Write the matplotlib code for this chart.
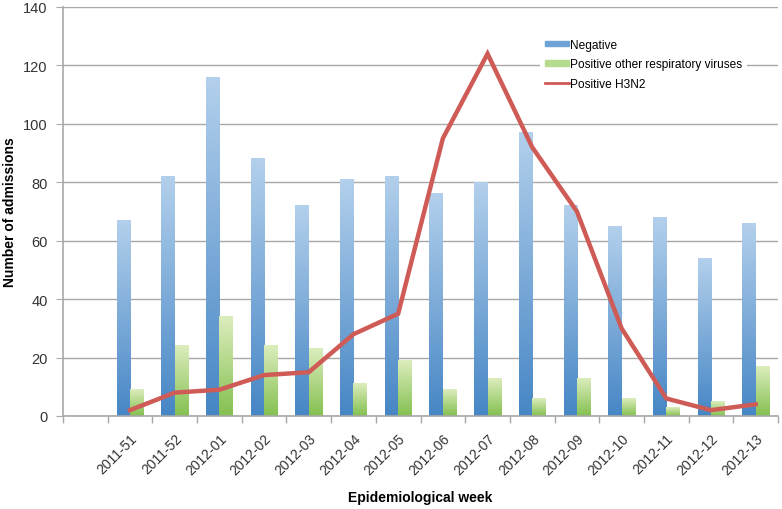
import numpy as np
import matplotlib.pyplot as plt
from matplotlib.colors import LinearSegmentedColormap
from matplotlib.patches import Patch
from matplotlib.lines import Line2D

plt.rcParams['font.family'] = ['Liberation Sans', 'DejaVu Sans']

# data (first category slot is empty)
weeks = ['', '2011-51', '2011-52', '2012-01', '2012-02', '2012-03', '2012-04', '2012-05',
         '2012-06', '2012-07', '2012-08', '2012-09', '2012-10', '2012-11', '2012-12', '2012-13']
negative = [67, 82, 116, 88, 72, 81, 82, 76, 80, 97, 72, 65, 68, 54, 66]
other_viruses = [9, 24, 34, 24, 23, 11, 19, 9, 13, 6, 13, 6, 3, 5, 17]
h3n2 = [2, 8, 9, 14, 15, 28, 35, 95, 124, 92, 70, 30, 6, 2, 4]

blue_cmap = LinearSegmentedColormap.from_list('b', ['#4686c5', '#b3d0ec'])
green_cmap = LinearSegmentedColormap.from_list('g', ['#84c050', '#dcedbd'])
grad = np.linspace(0, 1, 256).reshape(-1, 1)

fig = plt.figure(figsize=(7.82, 5.10), dpi=100)
ax = fig.add_axes([63/782, 1 - 417/510, 715/782, 409/510])

x = np.arange(1, len(weeks))
w = 0.3

def gradient_bars(xpos, vals, cmap):
    bars = ax.bar(xpos, vals, width=w, align='edge', color='none', zorder=2)
    for b in bars:
        x0, h = b.get_x(), b.get_height()
        ax.imshow(grad, cmap=cmap, origin='lower', aspect='auto',
                  extent=(x0, x0 + w, 0, h), zorder=2, interpolation='bicubic')

gradient_bars(x - w, negative, blue_cmap)
gradient_bars(x, other_viruses, green_cmap)
ax.plot(x, h3n2, color='#cf5b57', lw=3.2, zorder=3, solid_joinstyle='miter')

ax.set_xlim(-0.5, len(weeks) - 0.5)
ax.set_ylim(0, 140)
ax.set_yticks(np.arange(0, 141, 20))
ax.yaxis.grid(True, color='#a8a8a8', lw=1)
ax.set_axisbelow(True)

# tick marks between categories, labels at category centres
ax.set_xticks(np.arange(-0.5, len(weeks), 1))
ax.set_xticklabels([])
ax.set_xticks(np.arange(len(weeks)), minor=True)
ax.set_xticklabels(weeks, minor=True, rotation=45, ha='right', va='top',
                   rotation_mode='anchor', fontsize=10, color='#333333')
ax.tick_params(axis='x', which='minor', length=0, pad=11)
ax.tick_params(axis='x', which='major', length=5, color='#a8a8a8', width=1)
ax.tick_params(axis='y', length=5, color='#a8a8a8', labelsize=10.5, labelcolor='#333333', pad=6)

for s in ['top', 'right']:
    ax.spines[s].set_visible(False)
for s in ['left', 'bottom']:
    ax.spines[s].set_color('#a8a8a8')
    ax.spines[s].set_linewidth(1.2)

ax.set_ylabel('Number of admissions', fontsize=10, fontweight='bold')
ax.yaxis.set_label_coords(-46/715, 0.5)
ax.set_xlabel('Epidemiological week', fontsize=10, fontweight='bold')
ax.xaxis.set_label_coords(0.5, -74/409)

handles = [Patch(color='#6fa3d8'), Patch(color='#b5dc8e'),
           Line2D([], [], color='#cf5b57', lw=2)]
labels = ['Negative', 'Positive other respiratory viruses', 'Positive H3N2']
leg = ax.legend(handles, labels, loc='upper left', bbox_to_anchor=(534/782, 1 - 29/510),
                bbox_transform=fig.transFigure, fontsize=8.6, frameon=True,
                handlelength=2.0, handleheight=0.35, handletextpad=0.15,
                labelspacing=0.62, borderpad=0.4)
leg.get_frame().set_edgecolor('none')
leg.get_frame().set_facecolor('white')
leg.get_frame().set_alpha(1)

fig.savefig('out.png', dpi=100)
